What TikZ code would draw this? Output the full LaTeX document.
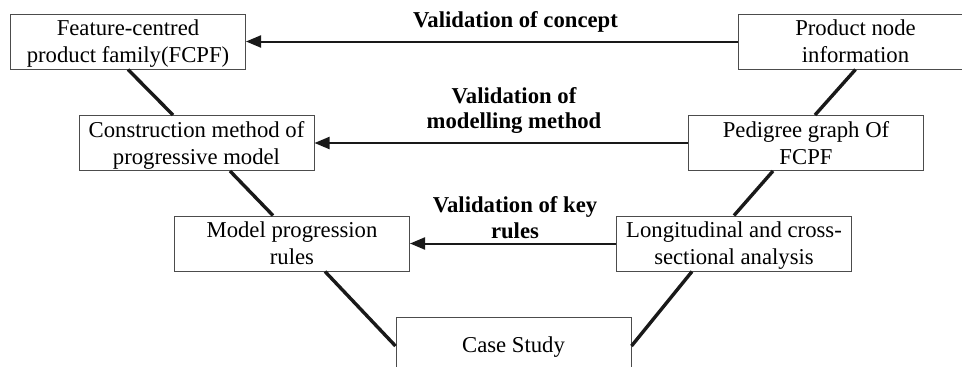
\documentclass[tikz,border=0pt]{standalone}
\usepackage{fontspec}
\setmainfont{Liberation Serif}
\usetikzlibrary{calc,arrows.meta}
% fixed line height inside the boxes
\newcommand\bstrut{\rule[-5pt]{0pt}{25pt}}
\begin{document}
\begin{tikzpicture}[x=1pt,y=-1pt,
  box/.style={draw=black!70,line width=1pt,fill=white,rectangle,
    minimum width=235pt,minimum height=55pt,inner sep=0pt,align=center,
    font=\fontsize{22.7}{27}\selectfont},
  vlabel/.style={align=center,inner sep=0pt,
    font=\fontsize{22.7}{25.5}\selectfont\bfseries},
  link/.style={line width=3.4pt,black!90},
  valid/.style={line width=2pt,black!90,-{Triangle[length=15pt,width=12pt]}}]
\useasboundingbox (0,0) rectangle (962,367);

% left branch of the V
\node[box] (fcpf) at (128,41.5) {\bstrut Feature-centred\\\bstrut product family(FCPF)};
\node[box] (cons) at (196.5,143) {\bstrut Construction method of\\\bstrut progressive model};
\node[box] (rules) at (292,243.5) {\bstrut Model progression\\\bstrut rules};
% bottom of the V
\node[box] (case) at (513.5,344.5) {\bstrut Case Study};
% right branch of the V
\node[box] (pni) at (855.5,41.5) {\bstrut Product node\\\bstrut information};
\node[box] (pedi) at (806,143) {\bstrut Pedigree graph Of\\\bstrut FCPF};
\node[box] (longi) at (734,243.5) {\bstrut Longitudinal and cross-\\\bstrut sectional analysis};

% V-shaped links between the boxes
\draw[link] (fcpf.south) -- ($(cons.north)+(-23.5,0)$);
\draw[link] ($(cons.south)+(33.5,0)$) -- ($(rules.north)+(-19,0)$);
\draw[link] ($(rules.south)+(33,0)$) -- ($(case.west)+(0,1.5)$);
\draw[link] (pni.south) -- ($(pedi.north)+(9,0)$);
\draw[link] ($(pedi.south)+(-33,0)$) -- (longi.north);
\draw[link] ($(longi.south)+(-42,0)$) -- ($(case.east)+(0,1.5)$);

% validation arrows
\draw[valid] (pni.west) -- (fcpf.east);
\draw[valid] (pedi.west) -- (cons.east);
\draw[valid] (longi.west) -- (rules.east);

\node[vlabel] (l1) at (515.5,21.7) {Validation of concept};
\node[vlabel,font=\fontsize{22.7}{25}\selectfont\bfseries] (l2) at (514,110.4) {Validation of\\modelling method};
\node[vlabel,font=\fontsize{22.7}{26}\selectfont\bfseries] (l3) at (515,217.2) {Validation of key\\rules};
\end{tikzpicture}
\end{document}
